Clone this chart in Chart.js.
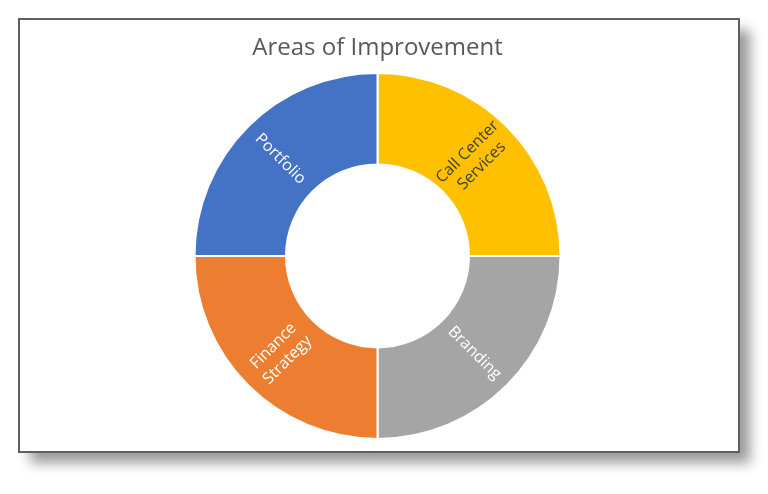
<!DOCTYPE html>
<html>
<head>
<meta charset="utf-8">
<script src="https://cdn.jsdelivr.net/npm/chart.js@4"></script>
<style>
  html, body { margin: 0; padding: 0; background: #ffffff; }
  #wrap { width: 768px; height: 494px; position: relative; }
</style>
</head>
<body>
<div id="wrap"><canvas id="c" width="768" height="494"></canvas></div>
<script>
const categories = [['Call Center', 'Services'], 'Branding', ['Finance', 'Strategy'], 'Portfolio'];
const values = [25, 25, 25, 25];
const colors = ['#FFC000', '#A5A5A5', '#ED7D31', '#4472C4'];
const labelColors = ['#404040', '#FFFFFF', '#FFFFFF', '#FFFFFF'];
const titleText = 'Areas of Improvement';

const framePlugin = {
  id: 'frame',
  beforeDraw(chart) {
    const ctx = chart.ctx;
    ctx.save();
    ctx.fillStyle = '#ffffff';
    ctx.fillRect(0, 0, chart.width, chart.height);
    ctx.shadowColor = 'rgba(0,0,0,0.40)';
    ctx.shadowOffsetX = 11;
    ctx.shadowOffsetY = 11;
    ctx.shadowBlur = 12;
    ctx.fillStyle = '#ffffff';
    ctx.fillRect(19, 19, 720, 433);
    ctx.restore();
    ctx.save();
    ctx.strokeStyle = '#5f5f5f';
    ctx.lineWidth = 2;
    ctx.strokeRect(19, 19, 720, 433);
    ctx.restore();
  }
};

const sliceLabels = {
  id: 'sliceLabels',
  afterDatasetsDraw(chart) {
    const ctx = chart.ctx;
    const meta = chart.getDatasetMeta(0);
    meta.data.forEach((arc, i) => {
      const p = arc.getProps(['x', 'y', 'startAngle', 'endAngle', 'innerRadius', 'outerRadius'], true);
      const mid = (p.startAngle + p.endAngle) / 2;
      const r = (p.innerRadius + p.outerRadius) / 2;
      const cx = p.x + Math.cos(mid) * r;
      const cy = p.y + Math.sin(mid) * r;
      let rot = Math.atan2(Math.sin(mid), Math.cos(mid));
      if (rot > Math.PI / 2) rot -= Math.PI;
      if (rot < -Math.PI / 2) rot += Math.PI;
      const lbl = chart.data.labels[i];
      const lines = Array.isArray(lbl) ? lbl : [lbl];
      const lh = 20;
      ctx.save();
      ctx.translate(cx, cy);
      ctx.rotate(rot);
      ctx.font = '16px "Open Sans", sans-serif';
      ctx.fillStyle = labelColors[i];
      ctx.textAlign = 'center';
      ctx.textBaseline = 'middle';
      lines.forEach((t, k) => {
        ctx.fillText(t, 0, (k - (lines.length - 1) / 2) * lh);
      });
      ctx.restore();
    });
  }
};

new Chart(document.getElementById('c'), {
  type: 'doughnut',
  data: {
    labels: categories,
    datasets: [{
      data: values,
      backgroundColor: colors,
      borderColor: '#ffffff',
      borderWidth: 2,
      hoverOffset: 0
    }]
  },
  options: {
    responsive: false,
    animation: false,
    devicePixelRatio: 1,
    cutout: '50%',
    radius: 183,
    layout: { padding: { top: 34, bottom: 56, left: 0, right: 13 } },
    plugins: {
      legend: { display: false },
      tooltip: { enabled: false },
      title: {
        display: true,
        text: titleText,
        color: '#595959',
        font: { family: '"Open Sans", sans-serif', size: 24, weight: 'normal' },
        padding: { top: 0, bottom: 11 }
      }
    }
  },
  plugins: [framePlugin, sliceLabels]
});
</script>
</body>
</html>
